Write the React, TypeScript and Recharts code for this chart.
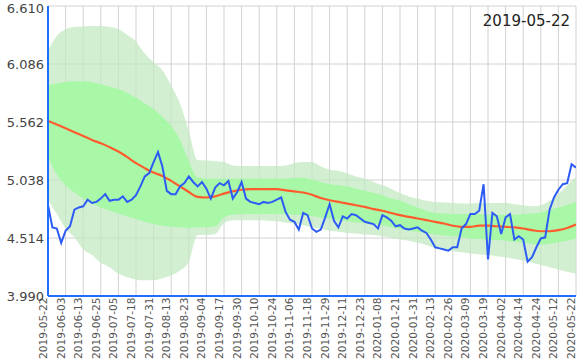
import React from 'react';
import { ComposedChart, Line, Area, XAxis, YAxis, CartesianGrid } from 'recharts';

const xTickLabels = [
  '2019-05-22','2019-06-03','2019-06-13','2019-06-25','2019-07-05','2019-07-18','2019-07-31','2019-08-13',
  '2019-08-23','2019-09-04','2019-09-17','2019-09-30','2019-10-10','2019-10-24','2019-11-06','2019-11-18',
  '2019-11-29','2019-12-11','2019-12-23','2020-01-08','2020-01-21','2020-01-31','2020-02-13','2020-02-26',
  '2020-03-09','2020-03-19','2020-04-02','2020-04-14','2020-04-24','2020-05-12','2020-05-22',
];
const yTicks = [3.99, 4.514, 5.038, 5.562, 6.086, 6.61];
const chartTitle = '2019-05-22';

// price, one value per 2 trading days
const priceValues = [
  4.81, 4.61, 4.60, 4.47, 4.58, 4.62, 4.77, 4.79, 4.80, 4.86,
  4.83, 4.84, 4.87, 4.91, 4.85, 4.86, 4.86, 4.89, 4.84, 4.86,
  4.90, 4.98, 5.07, 5.10, 5.20, 5.29, 5.16, 4.94, 4.91, 4.91,
  4.98, 5.01, 5.07, 5.02, 4.98, 5.02, 4.96, 4.87, 4.97, 5.01,
  4.99, 5.03, 4.87, 4.93, 5.02, 4.87, 4.84, 4.83, 4.82, 4.84,
  4.83, 4.84, 4.86, 4.88, 4.75, 4.68, 4.66, 4.59, 4.74, 4.72,
  4.60, 4.57, 4.59, 4.70, 4.82, 4.67, 4.61, 4.71, 4.69, 4.73,
  4.72, 4.69, 4.66, 4.65, 4.64, 4.60, 4.72, 4.70, 4.67, 4.62,
  4.63, 4.60, 4.59, 4.60, 4.61, 4.58, 4.56, 4.50, 4.43, 4.42,
  4.41, 4.40, 4.43, 4.43, 4.60, 4.64, 4.73, 4.73, 4.76, 5.00,
  4.32, 4.74, 4.71, 4.55, 4.70, 4.73, 4.50, 4.53, 4.50, 4.30,
  4.34, 4.43, 4.51, 4.52, 4.77, 4.88, 4.95, 5.00, 5.01, 5.18,
  5.15,
];

// moving average and bands, one value per 4 trading days
const maValues = [
  5.57, 5.54, 5.505, 5.47, 5.435, 5.40, 5.37, 5.335, 5.295, 5.245,
  5.19, 5.145, 5.105, 5.075, 5.03, 4.98, 4.93, 4.885, 4.88, 4.89,
  4.915, 4.935, 4.95, 4.955, 4.955, 4.955, 4.955, 4.945, 4.935, 4.925,
  4.905, 4.875, 4.855, 4.84, 4.825, 4.81, 4.795, 4.775, 4.76, 4.74,
  4.72, 4.705, 4.69, 4.675, 4.66, 4.645, 4.625, 4.615, 4.615, 4.625,
  4.625, 4.62, 4.615, 4.61, 4.60, 4.585, 4.575, 4.575, 4.585, 4.605,
  4.635,
];
const outerUpper = [
  6.21, 6.34, 6.40, 6.42, 6.425, 6.43, 6.43, 6.42, 6.40, 6.35,
  6.29, 6.18, 6.10, 6.03, 5.89, 5.73, 5.48, 5.216, 5.215, 5.21,
  5.20, 5.17, 5.165, 5.165, 5.165, 5.165, 5.165, 5.17, 5.19, 5.20,
  5.20, 5.16, 5.13, 5.12, 5.10, 5.07, 5.05, 5.02, 4.99, 4.96,
  4.92, 4.89, 4.87, 4.85, 4.84, 4.835, 4.83, 4.825, 4.825, 4.83,
  4.83, 4.83, 4.83, 4.82, 4.81, 4.80, 4.81, 4.85, 4.91, 4.99,
  5.065,
];
const innerUpper = [
  5.894, 5.91, 5.924, 5.93, 5.93, 5.92, 5.90, 5.88, 5.86, 5.825,
  5.78, 5.73, 5.68, 5.61, 5.525, 5.40, 5.21, 5.06, 5.05, 5.05,
  5.05, 5.05, 5.05, 5.05, 5.05, 5.05, 5.05, 5.05, 5.055, 5.06,
  5.04, 5.02, 5.00, 4.99, 4.98, 4.96, 4.94, 4.92, 4.90, 4.87,
  4.85, 4.82, 4.79, 4.76, 4.74, 4.735, 4.73, 4.73, 4.73, 4.73,
  4.725, 4.725, 4.725, 4.725, 4.73, 4.735, 4.745, 4.77, 4.79, 4.815,
  4.84,
];
const innerLower = [
  5.246, 5.09, 4.99, 4.925, 4.87, 4.825, 4.79, 4.76, 4.735, 4.71,
  4.685, 4.66, 4.64, 4.625, 4.615, 4.61, 4.605, 4.61, 4.61, 4.62,
  4.70, 4.725, 4.73, 4.73, 4.73, 4.73, 4.73, 4.73, 4.725, 4.72,
  4.71, 4.70, 4.69, 4.675, 4.665, 4.655, 4.65, 4.64, 4.63, 4.61,
  4.595, 4.58, 4.57, 4.555, 4.545, 4.535, 4.53, 4.52, 4.51, 4.505,
  4.50, 4.495, 4.49, 4.48, 4.47, 4.46, 4.455, 4.46, 4.475, 4.49,
  4.51,
];
const outerLower = [
  4.86, 4.73, 4.60, 4.52, 4.41, 4.36, 4.29, 4.25, 4.19, 4.16,
  4.14, 4.132, 4.132, 4.15, 4.175, 4.22, 4.30, 4.54, 4.54, 4.55,
  4.65, 4.675, 4.675, 4.675, 4.675, 4.67, 4.665, 4.655, 4.645, 4.63,
  4.61, 4.595, 4.58, 4.57, 4.56, 4.555, 4.545, 4.54, 4.53, 4.515,
  4.50, 4.49, 4.47, 4.45, 4.42, 4.41, 4.395, 4.385, 4.375, 4.365,
  4.36, 4.35, 4.34, 4.325, 4.31, 4.29, 4.27, 4.25, 4.23, 4.21,
  4.193,
];

const PRICE_STEP = 2;
const BAND_STEP = 4;
const TICK_STEP = 8;

const priceData = priceValues.map((v, k) => ({ day: k * PRICE_STEP, price: v }));
const bandData = maValues.map((v, j) => ({
  day: j * BAND_STEP,
  ma: v,
  outer: [outerLower[j], outerUpper[j]],
  inner: [innerLower[j], innerUpper[j]],
}));
const xTicks = xTickLabels.map((_, i) => i * TICK_STEP);
const lastDay = (xTickLabels.length - 1) * TICK_STEP;

const FONT = '"DejaVu Sans", Verdana, sans-serif';

const XTick = (props: any) => {
  const { x, y, payload } = props;
  const label = xTickLabels[Math.round(payload.value / TICK_STEP)] ?? '';
  return (
    <text
      x={0}
      y={0}
      transform={`translate(${x - 1},${y + 1.5}) rotate(-90)`}
      textAnchor="end"
      fontSize={10.6}
      fontFamily={FONT}
      fill="#555"
    >
      {label}
    </text>
  );
};

export default function App() {
  return (
    <div style={{ position: 'absolute', left: 0, top: 0, width: 585, height: 360, background: '#fff' }}>
      <ComposedChart
        width={585}
        height={360}
        margin={{ top: 6, right: 9, left: 0, bottom: 0 }}
      >
        <CartesianGrid stroke="#d2d2d2" strokeWidth={1} />
        <XAxis
          type="number"
          dataKey="day"
          domain={[0, lastDay]}
          ticks={xTicks}
          interval={0}
          height={64}
          tick={<XTick />}
          tickLine={false}
          tickSize={0}
          tickMargin={0}
          axisLine={{ stroke: '#1f6fff', strokeWidth: 2 }}
          allowDataOverflow
        />
        <YAxis
          type="number"
          domain={[3.99, 6.61]}
          ticks={yTicks}
          width={48}
          tickFormatter={(v: number) => v.toFixed(3)}
          tick={{ fontSize: 13, fontFamily: FONT, fill: '#444' }}
          tickLine={false}
          tickSize={4}
          tickMargin={0}
          axisLine={{ stroke: '#1f6fff', strokeWidth: 2 }}
          allowDataOverflow
        />
        <Area
          data={bandData}
          dataKey="outer"
          type="monotone"
          stroke="none"
          fill="#c2e9c0"
          fillOpacity={0.72}
          isAnimationActive={false}
          activeDot={false}
        />
        <Area
          data={bandData}
          dataKey="inner"
          type="monotone"
          stroke="none"
          fill="#9ffa9f"
          fillOpacity={0.82}
          isAnimationActive={false}
          activeDot={false}
        />
        <Line
          data={bandData}
          dataKey="ma"
          type="monotone"
          stroke="#ff5c2e"
          strokeWidth={2.2}
          dot={false}
          isAnimationActive={false}
        />
        <Line
          data={priceData}
          dataKey="price"
          type="linear"
          stroke="#2d5cf5"
          strokeWidth={2}
          dot={false}
          isAnimationActive={false}
        />
      </ComposedChart>
      <div
        style={{
          position: 'absolute',
          right: 15,
          top: 12,
          fontSize: 15,
          fontFamily: FONT,
          color: '#222',
          lineHeight: 'normal',
          whiteSpace: 'nowrap',
        }}
      >
        {chartTitle}
      </div>
    </div>
  );
}
